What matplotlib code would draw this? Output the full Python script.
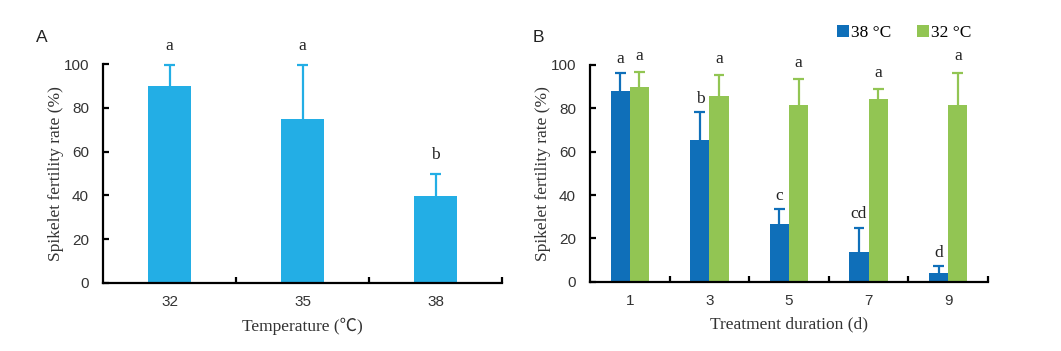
import matplotlib
matplotlib.use("Agg")
import matplotlib.pyplot as plt
import numpy as np

# panel A: fertility by temperature
temps = ["32", "35", "38"]
fert_a = [90.1, 74.9, 39.9]
err_a = [9.4, 24.6, 10.0]
letters_a = ["a", "a", "b"]

# panel B: fertility by treatment duration
days = ["1", "3", "5", "7", "9"]
fert_38 = [88.2, 65.4, 26.8, 13.7, 4.2]
err_38 = [8.3, 12.8, 6.6, 11.1, 3.0]
fert_32 = [89.7, 85.8, 81.4, 84.5, 81.5]
err_32 = [6.9, 9.4, 12.1, 4.4, 15.0]
letters_38 = ["a", "b", "c", "cd", "d"]
letters_32 = ["a", "a", "a", "a", "a"]

c_a = "#23aee5"
c_38 = "#0f6fb9"
c_32 = "#92c553"

serif = ["Liberation Serif", "Noto Sans CJK SC", "DejaVu Serif"]
plt.rcParams["font.family"] = ["Liberation Sans", "DejaVu Sans"]

fig = plt.figure(figsize=(10.61, 3.51), dpi=100)
axA = fig.add_axes([103/1061, 1-283/351, 399/1061, 219/351])
axB = fig.add_axes([590/1061, 1-281.7/351, 398/1061, 216.7/351])


def style(ax, n):
    ax.set_xlim(-0.5, n - 0.5)
    ax.set_ylim(0, 100)
    ax.set_yticks([0, 20, 40, 60, 80, 100])
    ax.set_xticks(range(n))
    ax.set_xticks(np.arange(0.5, n, 1.0), minor=True)
    for s in ["top", "right"]:
        ax.spines[s].set_visible(False)
    for s in ["left", "bottom"]:
        ax.spines[s].set_linewidth(1.6)
    ax.tick_params(axis="y", direction="in", length=4, width=1.6,
                   labelsize=11, labelcolor="#333333", pad=10)
    ax.tick_params(axis="x", which="major", length=0, labelsize=11,
                   labelcolor="#333333", pad=9)
    ax.tick_params(axis="x", which="minor", direction="in", length=4, width=1.6)
    ax.set_ylabel("Spikelet fertility rate (%)", family=serif, fontsize=12.5,
                  color="#333333", labelpad=0)


def upper_err(ax, x, y, e, color, cap):
    # one-sided error bars: stem from bar top plus a cap
    top = np.array(y) + np.array(e)
    ax.vlines(x, y, top, color=color, lw=1.6, zorder=1, clip_on=False)
    ax.hlines(top, x - cap, x + cap, color=color, lw=1.6, zorder=1,
              clip_on=False)


# ---- A ----
xa = np.arange(len(temps))
axA.bar(xa, fert_a, width=0.33, color=c_a, zorder=2)
upper_err(axA, xa, fert_a, err_a, c_a, 0.038)
for i in range(len(xa)):
    axA.annotate(letters_a[i], (xa[i], fert_a[i] + err_a[i]), xytext=(0, 8),
                 textcoords="offset points", ha="center", va="bottom",
                 family=serif, fontsize=12.5, color="#222222",
                 annotation_clip=False)
style(axA, len(temps))
axA.set_xticklabels(temps)
axA.set_xlabel("Temperature (℃)", family=serif, fontsize=12.5, color="#333333",
               labelpad=6)
fig.text(42/1061, 1-38/351, "A", fontsize=12.5, ha="center", va="center",
         color="#222222")

# ---- B ----
xb = np.arange(len(days))
w = 0.24
axB.bar(xb - w/2, fert_38, width=w, color=c_38, label="38 °C", zorder=2)
axB.bar(xb + w/2, fert_32, width=w, color=c_32, label="32 °C", zorder=2)
upper_err(axB, xb - w/2, fert_38, err_38, c_38, 0.068)
upper_err(axB, xb + w/2, fert_32, err_32, c_32, 0.068)
for i in range(len(xb)):
    axB.annotate(letters_38[i], (xb[i] - w/2, fert_38[i] + err_38[i]),
                 xytext=(0, 4), textcoords="offset points", ha="center",
                 va="bottom", family=serif, fontsize=12.5, color="#222222",
                 annotation_clip=False)
    axB.annotate(letters_32[i], (xb[i] + w/2, fert_32[i] + err_32[i]),
                 xytext=(0, 6), textcoords="offset points", ha="center",
                 va="bottom", family=serif, fontsize=12.5, color="#222222",
                 annotation_clip=False)
style(axB, len(days))
axB.set_xticklabels(days)
axB.set_xlabel("Treatment duration (d)", family=serif, fontsize=12.5,
               color="#333333", labelpad=6)
fig.text(538/1061, 1-38/351, "B", fontsize=12.5, ha="center", va="center",
         color="#222222")
axB.legend(loc="center left", bbox_to_anchor=(837/1061, 1-33/351),
           bbox_transform=fig.transFigure, ncol=2, frameon=False,
           handlelength=0.7, handleheight=0.7, handletextpad=0.1,
           columnspacing=1.5, borderpad=0, borderaxespad=0,
           prop={"family": serif, "size": 12.5})

fig.savefig("out.png", dpi=100)
